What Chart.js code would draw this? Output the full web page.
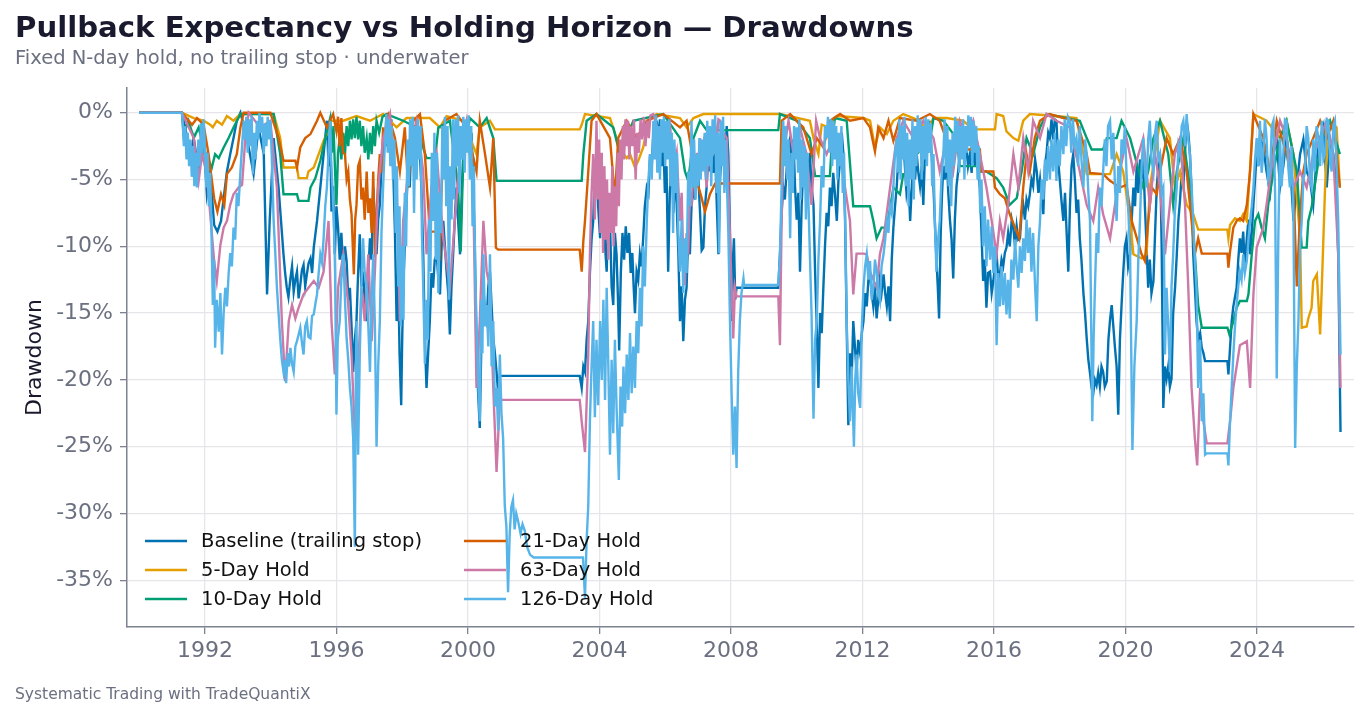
<!DOCTYPE html>
<html>
<head>
<meta charset="utf-8">
<title>Pullback Expectancy vs Holding Horizon - Drawdowns</title>
<script src="https://cdn.jsdelivr.net/npm/chart.js@4.4.1/dist/chart.umd.min.js"></script>
<style>
  html, body { margin: 0; padding: 0; background: #ffffff; }
  #wrap { width: 1368px; height: 717px; }
</style>
</head>
<body>
<div id="wrap"><canvas id="chart" width="1368" height="717"></canvas></div>
<script>
// drawdown series, [year, drawdown %]
const baseline = [
  [1990.0, 0], [1991.3, 0], [1991.40, -1.1], [1991.55, -3.1], [1991.66, -1.9], [1991.81, -4.4], [1991.96, -1.9],
  [1992.06, -6.1], [1992.16, -4.4], [1992.28, -8.4], [1992.38, -8.9], [1992.49, -8.1], [1992.57, -6.4], [1992.67, -4.4],
  [1992.77, -3.1], [1992.87, -1.9], [1992.97, -0.6], [1993.08, 0], [1993.28, -1.9], [1993.48, -4.6], [1993.63, -1.1],
  [1993.79, -3.1], [1993.89, -13.6], [1993.97, -8.1], [1994.09, -1.9], [1994.24, -5.6], [1994.39, -10.6], [1994.44, -12.0],
  [1994.49, -13.1], [1994.54, -13.8], [1994.60, -12.4], [1994.65, -11.5], [1994.70, -13.4], [1994.75, -12.5], [1994.80, -11.9],
  [1994.85, -13.9], [1994.90, -12.9], [1994.95, -11.8], [1995.00, -11.4], [1995.05, -13.0], [1995.10, -12.1], [1995.15, -11.3],
  [1995.21, -10.9], [1995.26, -12.0], [1995.31, -10.1], [1995.41, -8.1], [1995.51, -5.6], [1995.61, -3.1], [1995.71, -0.6],
  [1995.76, -4.0], [1995.81, -2.0], [1995.85, -7.4], [1995.90, -5.5], [1995.95, -10.6], [1996.00, -7.0], [1996.05, -8.6],
  [1996.10, -11.0], [1996.15, -9.0], [1996.21, -11.9], [1996.26, -10.0], [1996.31, -11.1], [1996.36, -14.0], [1996.41, -13.1],
  [1996.46, -16.0], [1996.51, -19.4], [1996.56, -17.0], [1996.61, -15.6], [1996.66, -12.0], [1996.71, -9.1], [1996.76, -13.0],
  [1996.81, -11.9], [1996.86, -14.0], [1996.92, -15.6], [1996.97, -12.0], [1997.02, -9.4], [1997.07, -11.0], [1997.12, -5.6],
  [1997.17, -8.0], [1997.22, -10.6], [1997.27, -8.0], [1997.32, -6.9], [1997.37, -4.0], [1997.42, -3.1], [1997.47, -1.5],
  [1997.52, -2.5], [1997.57, -0.6], [1997.62, -2.0], [1997.67, -0.5], [1997.73, -4.4], [1997.78, -9.0], [1997.83, -15.6],
  [1997.88, -12.0], [1997.92, -18.0], [1997.97, -21.9], [1998.00, -17.0], [1998.03, -13.1], [1998.08, -10.0], [1998.13, -6.9],
  [1998.18, -4.0], [1998.23, -5.6], [1998.28, -2.0], [1998.33, -4.0], [1998.39, -1.9], [1998.44, -0.5], [1998.49, -2.0],
  [1998.54, -3.1], [1998.59, -6.0], [1998.64, -10.6], [1998.69, -17.0], [1998.74, -20.6], [1998.79, -18.0], [1998.84, -15.6],
  [1998.89, -12.0], [1998.94, -13.1], [1998.99, -11.0], [1999.05, -10.6], [1999.10, -12.5], [1999.15, -13.6], [1999.20, -10.0],
  [1999.25, -8.1], [1999.30, -10.0], [1999.35, -11.9], [1999.40, -13.5], [1999.45, -16.6], [1999.50, -13.0], [1999.55, -10.6],
  [1999.60, -8.0], [1999.65, -5.6], [1999.70, -8.0], [1999.76, -10.6], [1999.81, -6.0], [1999.86, -3.1], [1999.91, -1.0],
  [1999.96, -2.5], [2000.01, -0.6], [2000.06, -3.0], [2000.11, -1.5], [2000.16, -5.6], [2000.21, -10.0], [2000.26, -18.1],
  [2000.31, -21.0], [2000.36, -23.6], [2000.41, -17.0], [2000.47, -13.1], [2000.52, -15.0], [2000.57, -15.6], [2000.62, -13.0],
  [2000.67, -11.9], [2000.72, -14.5], [2000.77, -16.9], [2000.82, -18.0], [2000.87, -19.4], [2000.92, -21.0], [2000.97, -19.7],
  [2003.40, -19.7], [2003.46, -20.6], [2003.51, -19.0], [2003.56, -19.4], [2003.61, -17.0], [2003.66, -15.6], [2003.71, -12.0],
  [2003.76, -9.5], [2003.81, -8.1], [2003.86, -4.0], [2003.91, -3.1], [2003.96, -7.0], [2004.02, -9.4], [2004.07, -5.5],
  [2004.12, -5.6], [2004.17, -10.0], [2004.22, -11.9], [2004.27, -7.0], [2004.32, -8.1], [2004.37, -13.0], [2004.42, -14.4],
  [2004.47, -9.0], [2004.52, -10.6], [2004.57, -14.5], [2004.60, -17.8], [2004.65, -12.0], [2004.70, -9.0], [2004.75, -11.0],
  [2004.80, -8.5], [2004.85, -10.5], [2004.90, -9.0], [2004.95, -12.0], [2005.00, -10.5], [2005.04, -13.0], [2005.08, -15.0],
  [2005.13, -11.9], [2005.18, -12.5], [2005.23, -10.6], [2005.28, -11.5], [2005.33, -9.4], [2005.38, -7.0], [2005.44, -5.6],
  [2005.49, -6.0], [2005.54, -3.1], [2005.59, -4.0], [2005.64, -1.5], [2005.69, -3.0], [2005.74, -0.6], [2005.79, -2.0],
  [2005.84, -0.5], [2005.89, -4.0], [2005.94, -1.9], [2005.99, -6.0], [2006.04, -4.0], [2006.09, -11.9], [2006.14, -6.0],
  [2006.20, -3.1], [2006.25, -7.5], [2006.30, -4.5], [2006.35, -6.9], [2006.40, -10.5], [2006.45, -15.6], [2006.50, -13.0],
  [2006.55, -17.1], [2006.60, -14.0], [2006.65, -13.1], [2006.70, -9.0], [2006.75, -10.6], [2006.80, -7.0], [2006.86, -5.6],
  [2006.91, -6.5], [2006.96, -3.1], [2007.01, -5.0], [2007.06, -7.5], [2007.11, -10.3], [2007.16, -10.1], [2007.21, -7.0],
  [2007.26, -5.6], [2007.31, -3.0], [2007.36, -4.4], [2007.41, -2.0], [2007.46, -4.5], [2007.52, -3.1], [2007.57, -7.0],
  [2007.62, -10.6], [2007.67, -5.0], [2007.72, -2.0], [2007.77, -1.9], [2007.82, -4.0], [2007.87, -1.0], [2007.92, -3.1],
  [2007.97, -9.0], [2008.02, -15.6], [2008.06, -11.0], [2008.09, -9.4], [2008.13, -14.0], [2008.17, -13.1], [2009.44, -13.1],
  [2009.49, -10.6], [2009.54, -7.5], [2009.59, -5.6], [2009.64, -6.5], [2009.69, -4.4], [2009.74, -2.5], [2009.80, -1.9],
  [2009.85, -4.0], [2009.90, -2.0], [2009.95, -5.6], [2010.00, -8.0], [2010.05, -6.0], [2010.10, -11.9], [2010.15, -7.0],
  [2010.20, -4.0], [2010.25, -5.5], [2010.30, -3.1], [2010.35, -5.0], [2010.40, -3.0], [2010.45, -5.5], [2010.51, -6.9],
  [2010.56, -12.0], [2010.61, -16.0], [2010.66, -20.6], [2010.71, -15.0], [2010.76, -16.5], [2010.81, -13.1], [2010.86, -10.0],
  [2010.91, -7.5], [2010.96, -8.5], [2011.01, -5.6], [2011.06, -7.0], [2011.11, -4.5], [2011.16, -6.0], [2011.22, -8.1],
  [2011.27, -5.0], [2011.32, -3.5], [2011.37, -1.5], [2011.42, -3.1], [2011.47, -8.0], [2011.52, -16.0], [2011.57, -23.4],
  [2011.62, -18.0], [2011.67, -20.0], [2011.72, -15.6], [2011.77, -17.5], [2011.82, -19.4], [2011.87, -17.0], [2011.93, -18.0],
  [2011.98, -16.5], [2012.03, -15.6], [2012.08, -13.5], [2012.13, -14.5], [2012.18, -12.5], [2012.23, -12.1], [2012.28, -13.5],
  [2012.33, -14.5], [2012.38, -13.0], [2012.43, -15.4], [2012.48, -14.0], [2012.53, -12.5], [2012.58, -13.5], [2012.64, -12.1],
  [2012.69, -13.5], [2012.74, -14.5], [2012.79, -13.0], [2012.84, -15.6], [2012.89, -11.0], [2012.94, -8.6], [2012.99, -7.0],
  [2013.04, -5.6], [2013.09, -3.5], [2013.14, -4.5], [2013.19, -2.0], [2013.24, -1.9], [2013.29, -4.0], [2013.34, -6.0],
  [2013.40, -5.0], [2013.45, -8.1], [2013.50, -5.5], [2013.55, -3.5], [2013.60, -5.0], [2013.65, -3.1], [2013.70, -4.5],
  [2013.75, -5.5], [2013.80, -4.0], [2013.85, -6.9], [2013.90, -3.0], [2013.95, -1.5], [2014.00, -3.0], [2014.05, -0.6],
  [2014.10, -3.0], [2014.15, -5.0], [2014.20, -8.1], [2014.25, -11.0], [2014.29, -13.0], [2014.33, -15.4], [2014.38, -9.0],
  [2014.42, -6.0], [2014.46, -4.0], [2014.51, -5.0], [2014.56, -3.1], [2014.61, -6.0], [2014.66, -8.0], [2014.71, -9.5],
  [2014.76, -12.4], [2014.81, -8.0], [2014.86, -5.5], [2014.91, -4.4], [2014.96, -3.0], [2015.01, -2.5], [2015.06, -1.9],
  [2015.11, -3.5], [2015.16, -2.5], [2015.21, -4.0], [2015.27, -3.1], [2015.32, -4.5], [2015.37, -2.0], [2015.42, -4.0],
  [2015.47, -3.0], [2015.52, -4.5], [2015.57, -5.6], [2015.62, -9.0], [2015.67, -12.6], [2015.72, -11.0], [2015.77, -14.6],
  [2015.82, -12.0], [2015.88, -11.9], [2015.93, -13.5], [2015.98, -12.6], [2016.03, -11.5], [2016.08, -10.6], [2016.13, -12.5],
  [2016.18, -12.1], [2016.23, -11.0], [2016.28, -11.5], [2016.33, -10.5], [2016.38, -10.1], [2016.43, -9.0], [2016.48, -10.0],
  [2016.54, -8.0], [2016.59, -8.6], [2016.64, -10.0], [2016.69, -8.5], [2016.74, -9.5], [2016.79, -9.4], [2016.84, -7.5],
  [2016.89, -6.9], [2016.94, -8.0], [2016.99, -6.5], [2017.04, -7.0], [2017.09, -6.1], [2017.14, -5.0], [2017.19, -5.5],
  [2017.25, -3.5], [2017.30, -4.4], [2017.35, -6.0], [2017.40, -5.0], [2017.45, -6.5], [2017.50, -7.6], [2017.55, -4.0],
  [2017.60, -3.0], [2017.65, -1.5], [2017.70, -1.9], [2017.75, -0.5], [2017.80, -2.0], [2017.85, -0.5], [2017.90, -0.6],
  [2017.95, -3.5], [2018.00, -5.0], [2018.05, -6.5], [2018.11, -8.1], [2018.16, -6.0], [2018.21, -9.0], [2018.26, -11.9],
  [2018.31, -7.0], [2018.36, -4.0], [2018.41, -3.1], [2018.46, -5.0], [2018.51, -7.5], [2018.56, -6.5], [2018.61, -9.4],
  [2018.66, -11.0], [2018.72, -13.5], [2018.77, -15.0], [2018.82, -16.9], [2018.87, -18.5], [2018.92, -19.5], [2018.97, -20.6],
  [2019.02, -21.0], [2019.07, -20.0], [2019.12, -20.4], [2019.17, -19.5], [2019.22, -20.5], [2019.27, -19.0], [2019.32, -19.4],
  [2019.37, -20.5], [2019.43, -20.1], [2019.48, -17.0], [2019.53, -15.5], [2019.58, -14.4], [2019.63, -16.0], [2019.68, -17.6],
  [2019.73, -19.0], [2019.78, -22.6], [2019.83, -17.0], [2019.88, -14.4], [2019.93, -12.0], [2019.98, -10.0], [2020.03, -9.4],
  [2020.08, -11.5], [2020.14, -10.6], [2020.19, -8.0], [2020.24, -5.6], [2020.29, -7.0], [2020.34, -4.0], [2020.39, -6.0],
  [2020.44, -3.5], [2020.49, -5.0], [2020.54, -3.1], [2020.59, -7.0], [2020.64, -10.0], [2020.69, -13.1], [2020.74, -11.0],
  [2020.79, -13.5], [2020.85, -12.6], [2020.90, -9.0], [2020.95, -5.6], [2021.00, -4.0], [2021.05, -3.1], [2021.10, -10.0],
  [2021.15, -22.1], [2021.20, -19.0], [2021.25, -19.9], [2021.30, -19.0], [2021.35, -20.5], [2021.40, -19.9], [2021.45, -15.0],
  [2021.51, -13.0], [2021.56, -10.6], [2021.61, -8.0], [2021.66, -6.5], [2021.71, -4.5], [2021.76, -5.6], [2021.81, -3.0],
  [2021.86, -0.6], [2021.91, -1.5], [2021.96, -3.1], [2022.01, -6.0], [2022.06, -10.6], [2022.11, -13.0], [2022.16, -15.6],
  [2022.21, -17.0], [2022.27, -16.5], [2022.32, -17.6], [2022.37, -18.0], [2022.42, -18.6], [2023.10, -18.6], [2023.13, -19.6],
  [2023.23, -15.6], [2023.28, -14.5], [2023.38, -13.1], [2023.43, -11.0], [2023.48, -9.4], [2023.53, -10.5], [2023.58, -8.9],
  [2023.63, -11.5], [2023.69, -9.4], [2023.74, -8.0], [2023.79, -10.6], [2023.84, -9.0], [2023.89, -6.9], [2023.94, -5.0],
  [2023.99, -3.1], [2024.04, -4.0], [2024.09, -1.9], [2024.19, -2.5], [2024.29, -4.4], [2024.40, -6.0], [2024.50, -3.1],
  [2024.60, -2.0], [2024.70, -5.6], [2024.80, -4.0], [2024.90, -1.9], [2025.00, -3.5], [2025.11, -8.1], [2025.21, -5.5],
  [2025.31, -3.1], [2025.41, -2.0], [2025.51, -4.4], [2025.61, -5.0], [2025.71, -6.9], [2025.81, -3.5], [2025.92, -1.9],
  [2026.02, -1.0], [2026.12, -5.6], [2026.22, -2.0], [2026.32, -3.1], [2026.40, -5.0], [2026.47, -10.6], [2026.54, -23.9]
];

const hold5 = [
  [1990.0, 0], [1991.3, 0], [1991.66, -0.4], [1991.96, -0.6], [1992.16, -0.9], [1992.24, -1.1], [1992.36, -0.6],
  [1992.52, -0.9], [1992.67, -0.25], [1992.87, -0.6], [1993.08, -0.1], [1994.09, -0.1], [1994.29, -1.9], [1994.39, -4.1],
  [1994.80, -4.1], [1994.85, -4.9], [1995.10, -4.9], [1995.15, -4.4], [1995.31, -4.1], [1995.46, -3.1], [1995.61, -2.1],
  [1995.71, -1.6], [1995.81, -0.6], [1996.21, -0.6], [1996.61, -0.25], [1997.02, -0.6], [1997.42, -0.1], [1997.83, -1.1],
  [1998.13, -0.4], [1998.84, -0.4], [1999.15, -1.1], [1999.35, -0.25], [1999.86, -0.6], [2000.26, -3.1], [2000.36, -1.1],
  [2000.67, -0.6], [2000.82, -1.25], [2003.40, -1.25], [2003.46, -0.9], [2003.56, -0.1], [2004.32, -0.4], [2004.52, -1.9],
  [2004.73, -3.1], [2004.83, -3.4], [2004.93, -3.1], [2005.08, -4.1], [2005.18, -3.6], [2005.33, -2.6], [2005.49, -0.6],
  [2005.74, -0.1], [2006.45, -0.4], [2006.65, -1.1], [2006.86, -0.4], [2007.16, -0.1], [2009.44, -0.1], [2009.49, -0.1],
  [2010.40, -0.6], [2010.51, -1.9], [2010.66, -3.1], [2010.76, -0.9], [2010.96, -1.1], [2011.22, -0.25], [2012.03, -0.4],
  [2012.23, -0.6], [2012.38, -2.6], [2012.53, -1.1], [2012.74, -1.6], [2012.94, -0.6], [2013.24, -0.1], [2013.75, -0.6],
  [2013.95, -1.4], [2014.16, -0.4], [2014.56, -0.4], [2015.06, -0.6], [2015.37, -1.25], [2016.03, -1.25], [2016.08, -0.1],
  [2016.28, -0.25], [2016.38, -1.4], [2016.59, -1.9], [2016.74, -2.1], [2016.89, -0.6], [2017.09, -0.1], [2017.90, -0.25],
  [2018.51, -0.4], [2018.72, -3.1], [2018.82, -4.6], [2019.53, -4.6], [2019.73, -3.1], [2019.93, -4.4], [2020.14, -8.1],
  [2020.24, -10.6], [2020.49, -10.9], [2020.64, -10.6], [2020.74, -5.6], [2020.90, -3.1], [2021.05, -0.6], [2021.35, -1.9],
  [2021.50, -5.6], [2021.66, -4.4], [2021.86, -6.9], [2022.06, -7.6], [2022.21, -8.75], [2023.10, -8.75], [2023.13, -9.4],
  [2023.18, -8.4], [2023.33, -7.9], [2023.48, -8.1], [2023.58, -7.6], [2023.69, -8.1], [2023.79, -4.1], [2023.89, -0.1],
  [2024.29, -0.6], [2024.70, -1.9], [2024.90, -0.6], [2025.11, -3.1], [2025.31, -9.4], [2025.36, -16.1], [2025.51, -16.0],
  [2025.56, -15.4], [2025.66, -14.6], [2025.71, -12.6], [2025.82, -12.1], [2025.92, -16.6], [2025.97, -13.1], [2026.07, -5.6],
  [2026.17, -0.6], [2026.42, -1.1], [2026.52, -5.6]
];

const hold10 = [
  [1990.0, 0], [1991.3, 0], [1991.35, -1.6], [1991.50, -0.6], [1991.66, -1.9], [1991.81, -1.1], [1991.96, -2.6],
  [1992.11, -3.6], [1992.21, -4.1], [1992.31, -3.1], [1992.42, -3.4], [1992.57, -2.6], [1992.72, -1.9], [1992.87, -1.1],
  [1993.08, -0.1], [1994.09, -0.1], [1994.29, -3.1], [1994.39, -6.1], [1994.80, -6.1], [1994.85, -6.6], [1995.15, -6.6],
  [1995.21, -5.6], [1995.36, -4.9], [1995.51, -3.6], [1995.66, -1.9], [1995.81, -0.4], [1995.86, -3.0], [1995.91, -1.0],
  [1995.96, -4.5], [1996.00, -6.9], [1996.05, -3.0], [1996.10, -1.9], [1996.15, -3.5], [1996.21, -1.5], [1996.26, -3.1],
  [1996.31, -1.0], [1996.36, -2.5], [1996.41, -0.6], [1996.46, -2.0], [1996.51, -0.5], [1996.56, -1.9], [1996.61, -0.3],
  [1996.66, -2.0], [1996.71, -0.6], [1996.76, -2.5], [1996.81, -1.0], [1996.86, -3.0], [1996.92, -1.9], [1996.97, -3.5],
  [1997.02, -1.5], [1997.07, -3.1], [1997.12, -1.0], [1997.17, -2.5], [1997.22, -0.6], [1997.30, -1.5], [1997.40, -0.3],
  [1997.52, -0.1], [1998.03, -0.6], [1998.44, -1.1], [1998.74, -3.4], [1999.00, -3.4], [1999.10, -1.1], [1999.45, -0.6],
  [1999.70, -5.6], [1999.78, -10.4], [1999.86, -3.1], [2000.06, -0.4], [2000.36, -1.1], [2000.57, -0.4], [2000.77, -1.9],
  [2000.87, -5.1], [2003.40, -5.1], [2003.46, -5.1], [2003.51, -3.1], [2003.61, -0.6], [2003.91, -0.1], [2004.42, -1.1],
  [2004.62, -3.1], [2004.83, -1.9], [2005.03, -0.6], [2005.94, -0.1], [2006.45, -1.9], [2006.60, -4.4], [2006.70, -5.1],
  [2006.86, -1.9], [2007.06, -0.6], [2007.26, -1.3], [2009.44, -1.3], [2009.49, -0.1], [2010.00, -0.6], [2010.40, -1.9],
  [2010.56, -4.75], [2011.01, -4.75], [2011.06, -2.6], [2011.16, -0.4], [2011.52, -0.6], [2011.72, -7.0], [2012.23, -7.0],
  [2012.33, -8.1], [2012.43, -9.4], [2012.58, -8.6], [2012.74, -8.6], [2012.94, -5.6], [2013.14, -6.1], [2013.24, -4.6],
  [2013.45, -4.6], [2013.65, -3.1], [2014.05, -2.1], [2014.16, -0.4], [2014.46, -0.6], [2014.86, -1.9], [2014.96, -4.0],
  [2015.47, -4.0], [2015.57, -4.4], [2015.77, -4.4], [2016.08, -4.9], [2016.28, -5.6], [2016.48, -6.9], [2016.69, -6.4],
  [2016.84, -4.4], [2016.99, -1.9], [2017.19, -3.1], [2017.40, -1.1], [2017.60, -0.1], [2018.61, -0.6], [2018.82, -1.9],
  [2018.97, -2.75], [2019.32, -2.75], [2019.43, -1.9], [2019.73, -1.9], [2019.88, -0.6], [2020.14, -1.9], [2020.54, -5.6],
  [2020.69, -4.4], [2020.85, -1.9], [2021.05, -0.6], [2021.30, -3.1], [2021.45, -6.9], [2021.56, -4.4], [2021.76, -1.9],
  [2021.96, -5.6], [2022.11, -10.6], [2022.21, -14.4], [2022.32, -16.1], [2023.10, -16.1], [2023.16, -16.6], [2023.28, -15.6],
  [2023.38, -14.6], [2023.48, -14.1], [2023.69, -14.1], [2023.74, -13.6], [2023.84, -10.6], [2023.94, -8.1], [2024.04, -7.6],
  [2024.14, -8.6], [2024.24, -9.4], [2024.34, -6.9], [2024.50, -4.4], [2024.70, -1.9], [2024.90, -0.6], [2025.21, -4.4],
  [2025.36, -10.1], [2025.51, -10.1], [2025.56, -8.1], [2025.66, -7.1], [2025.82, -4.4], [2025.97, -1.9], [2026.22, -0.6],
  [2026.52, -3.1]
];

const hold21 = [
  [1990.0, 0], [1991.3, 0], [1991.61, -0.9], [1991.76, -0.4], [1991.96, -0.9], [1992.11, -3.1], [1992.28, -6.4],
  [1992.38, -7.4], [1992.49, -6.1], [1992.59, -6.9], [1992.67, -4.6], [1992.82, -4.1], [1992.97, -3.1], [1993.08, -1.1],
  [1993.18, 0], [1993.99, 0], [1994.24, -1.9], [1994.39, -3.6], [1994.75, -3.6], [1994.80, -4.1], [1994.90, -2.6],
  [1995.05, -1.9], [1995.21, -1.6], [1995.41, -0.6], [1995.51, 0], [1995.71, -1.1], [1995.90, -0.1], [1996.00, -1.4],
  [1996.05, -0.3], [1996.10, -2.5], [1996.15, -0.4], [1996.20, -3.0], [1996.26, -3.1], [1996.31, -5.0], [1996.36, -4.4],
  [1996.41, -6.5], [1996.46, -7.6], [1996.53, -12.1], [1996.57, -8.0], [1996.61, -6.9], [1996.66, -4.0], [1996.71, -3.6],
  [1996.76, -6.5], [1996.81, -5.6], [1996.86, -8.0], [1996.92, -4.4], [1996.97, -7.5], [1997.02, -6.4], [1997.07, -9.0],
  [1997.12, -4.4], [1997.17, -10.8], [1997.22, -7.6], [1997.27, -5.0], [1997.32, -3.1], [1997.37, -4.5], [1997.42, -1.1],
  [1997.47, -2.5], [1997.52, -0.3], [1997.57, -0.1], [1997.78, -1.9], [1997.93, -4.4], [1998.08, -1.1], [1998.18, -5.6],
  [1998.34, -0.6], [1998.54, -0.1], [1998.69, -3.1], [1998.84, -8.9], [1999.05, -8.9], [1999.13, -11.1], [1999.20, -5.6],
  [1999.30, -0.6], [1999.65, -0.1], [1999.96, -1.1], [2000.26, -4.4], [2000.36, -0.6], [2000.52, -3.1], [2000.67, -5.6],
  [2000.77, -1.9], [2000.85, -10.1], [2000.92, -10.25], [2003.40, -10.25], [2003.46, -11.9], [2003.51, -9.6], [2003.56, -8.1],
  [2003.66, -4.4], [2003.76, -0.6], [2003.91, -0.1], [2004.32, -1.9], [2004.47, -6.4], [2004.57, -1.9], [2004.83, -0.6],
  [2005.13, -1.9], [2005.44, -0.6], [2005.94, -0.1], [2006.45, -1.1], [2006.65, -0.6], [2006.96, -5.1], [2007.11, -6.4],
  [2007.21, -7.4], [2007.36, -6.1], [2007.52, -5.3], [2009.49, -5.3], [2009.54, -0.6], [2009.80, -0.1], [2010.20, -1.1],
  [2010.45, -3.1], [2010.61, -1.9], [2010.81, -2.6], [2011.01, -0.6], [2011.32, -0.1], [2011.62, -0.6], [2012.03, -0.4],
  [2012.23, -1.1], [2012.38, -2.9], [2012.48, -1.1], [2012.64, -1.9], [2012.79, -0.6], [2012.94, -2.1], [2013.14, -0.4],
  [2013.65, -0.6], [2014.05, -0.1], [2014.35, -0.6], [2014.66, -2.75], [2015.57, -2.75], [2015.62, -4.4], [2015.98, -4.4],
  [2016.03, -5.6], [2016.18, -6.1], [2016.33, -6.4], [2016.48, -7.6], [2016.64, -8.6], [2016.77, -9.4], [2016.89, -5.6],
  [2016.99, -3.1], [2017.09, -4.4], [2017.24, -1.9], [2017.40, -0.6], [2017.70, -0.1], [2018.11, -0.4], [2018.51, -0.6],
  [2018.82, -3.1], [2018.92, -4.5], [2019.32, -4.6], [2019.53, -5.1], [2019.83, -5.6], [2020.03, -5.4], [2020.19, -8.1],
  [2020.49, -10.6], [2020.59, -11.1], [2020.69, -8.1], [2020.80, -5.6], [2020.95, -6.1], [2021.05, -4.4], [2021.25, -1.9],
  [2021.45, -3.1], [2021.66, -1.9], [2021.86, -4.4], [2022.01, -8.1], [2022.11, -10.6], [2022.21, -9.4], [2022.32, -10.55],
  [2023.10, -10.55], [2023.13, -11.6], [2023.18, -10.4], [2023.28, -8.6], [2023.38, -8.1], [2023.48, -7.9], [2023.58, -8.1],
  [2023.69, -6.9], [2023.79, -4.4], [2023.89, -0.1], [2024.19, -1.9], [2024.40, -4.4], [2024.60, -0.6], [2024.90, -3.1],
  [2025.11, -5.6], [2025.21, -13.0], [2025.31, -7.6], [2025.41, -4.4], [2025.51, -3.1], [2025.71, -1.9], [2025.92, -0.6],
  [2026.12, -1.9], [2026.32, -0.6], [2026.52, -5.6]
];

const hold63 = [
  [1990.0, 0], [1991.3, 0], [1991.66, -1.9], [1991.81, -5.1], [1991.91, -3.1], [1992.06, -4.6], [1992.28, -11.1],
  [1992.36, -12.6], [1992.47, -9.9], [1992.57, -8.6], [1992.67, -8.1], [1992.77, -6.9], [1992.87, -6.1], [1993.02, -5.6],
  [1993.13, -5.4], [1993.23, -1.9], [1993.33, 0], [1993.68, -1.1], [1993.99, -0.6], [1994.19, -5.6], [1994.34, -15.6],
  [1994.44, -20.1], [1994.55, -15.6], [1994.65, -14.4], [1994.75, -15.4], [1994.85, -14.6], [1995.00, -13.6], [1995.15, -13.1],
  [1995.31, -12.6], [1995.46, -13.1], [1995.61, -11.9], [1995.76, -8.1], [1995.85, -15.6], [1995.95, -19.6], [1996.05, -13.1],
  [1996.21, -10.6], [1996.36, -14.4], [1996.46, -18.1], [1996.56, -24.1], [1996.66, -19.4], [1996.76, -13.1], [1996.86, -15.6],
  [1996.97, -10.6], [1997.07, -17.1], [1997.17, -11.9], [1997.27, -5.6], [1997.42, -1.9], [1997.63, -0.1], [1997.83, -5.6],
  [1997.93, -15.6], [1998.03, -8.1], [1998.23, -3.1], [1998.44, -0.6], [1998.64, -4.4], [1998.74, -10.6], [1998.89, -5.6],
  [1999.05, -3.1], [1999.25, -9.4], [1999.45, -13.1], [1999.60, -8.1], [1999.76, -3.1], [1999.96, -0.6], [2000.16, -5.6],
  [2000.26, -20.6], [2000.36, -15.6], [2000.47, -8.1], [2000.57, -11.9], [2000.67, -13.1], [2000.77, -20.6], [2000.87, -26.9],
  [2000.97, -21.5], [2003.40, -21.5], [2003.46, -23.1], [2003.56, -25.4], [2003.66, -18.1], [2003.71, -10.6], [2003.76, -6.0],
  [2003.81, -3.1], [2003.86, -8.0], [2003.91, -0.6], [2003.95, -6.5], [2003.99, -2.0], [2004.03, -9.0], [2004.07, -3.0],
  [2004.11, -10.5], [2004.15, -4.0], [2004.19, -9.5], [2004.23, -5.0], [2004.27, -11.0], [2004.31, -6.0], [2004.35, -9.0],
  [2004.39, -4.0], [2004.43, -10.0], [2004.47, -5.5], [2004.51, -8.5], [2004.55, -3.0], [2004.59, -7.0], [2004.63, -2.0],
  [2004.67, -5.0], [2004.71, -1.0], [2004.75, -3.5], [2004.79, -0.5], [2004.83, -2.5], [2004.87, -0.6], [2004.91, -3.5],
  [2004.95, -1.0], [2005.00, -2.5], [2005.05, -0.5], [2005.10, -5.0], [2005.15, -1.5], [2005.20, -3.0], [2005.25, -0.5],
  [2005.30, -2.0], [2005.35, -0.3], [2005.40, -2.5], [2005.45, -0.6], [2005.50, -1.9], [2005.55, -0.2], [2005.64, -0.1],
  [2005.80, -1.5], [2005.94, -1.1], [2006.05, -2.5], [2006.15, -1.0], [2006.25, -4.4], [2006.35, -3.0], [2006.45, -8.1],
  [2006.50, -6.0], [2006.55, -11.0], [2006.60, -12.9], [2006.65, -9.0], [2006.70, -10.6], [2006.75, -6.0], [2006.80, -7.0],
  [2006.86, -4.4], [2006.91, -5.5], [2006.96, -3.0], [2007.01, -4.5], [2007.06, -1.9], [2007.11, -3.5], [2007.16, -2.5],
  [2007.21, -4.0], [2007.26, -5.6], [2007.31, -3.0], [2007.36, -4.0], [2007.41, -2.0], [2007.46, -2.6], [2007.52, -1.0],
  [2007.57, -2.0], [2007.62, -0.5], [2007.67, -0.6], [2007.77, -1.5], [2007.87, -1.9], [2008.02, -13.1], [2008.07, -16.9],
  [2008.12, -13.1], [2008.17, -13.75], [2009.44, -13.75], [2009.49, -17.4], [2009.54, -8.1], [2009.59, -3.1], [2009.75, -0.6],
  [2009.90, -3.1], [2010.10, -1.1], [2010.30, -3.1], [2010.45, -6.9], [2010.59, -0.6], [2010.71, -1.9], [2010.91, -3.1],
  [2011.11, -1.9], [2011.32, -3.1], [2011.47, -5.6], [2011.62, -8.1], [2011.72, -13.6], [2011.82, -10.55], [2012.03, -10.55],
  [2012.13, -10.6], [2012.23, -11.9], [2012.43, -13.1], [2012.53, -10.6], [2012.64, -9.4], [2012.84, -5.6], [2013.04, -1.9],
  [2013.24, -0.6], [2013.55, -1.9], [2013.85, -0.6], [2014.16, -1.9], [2014.35, -4.4], [2014.56, -1.9], [2014.76, -4.4],
  [2014.96, -0.6], [2015.17, -1.9], [2015.37, -0.6], [2015.57, -3.1], [2015.77, -5.6], [2015.93, -8.1], [2016.08, -10.6],
  [2016.18, -8.1], [2016.28, -9.4], [2016.43, -6.9], [2016.59, -3.1], [2016.74, -5.6], [2016.89, -1.9], [2017.04, -4.4],
  [2017.19, -0.6], [2017.40, -1.9], [2017.60, -0.1], [2017.90, -0.6], [2018.31, -1.1], [2018.61, -4.4], [2018.82, -6.9],
  [2019.02, -8.1], [2019.17, -5.6], [2019.32, -7.6], [2019.53, -9.4], [2019.68, -6.9], [2019.83, -4.4], [2020.03, -1.9],
  [2020.24, -4.4], [2020.54, -1.9], [2020.74, -6.9], [2020.90, -3.1], [2021.05, -5.6], [2021.20, -10.6], [2021.35, -6.9],
  [2021.50, -3.1], [2021.66, -1.9], [2021.81, -6.9], [2021.91, -13.1], [2022.01, -20.6], [2022.11, -24.4], [2022.18, -26.4],
  [2022.27, -20.6], [2022.37, -23.1], [2022.47, -24.75], [2023.10, -24.75], [2023.18, -23.1], [2023.28, -20.6], [2023.48, -17.4],
  [2023.69, -17.1], [2023.79, -20.6], [2023.89, -13.6], [2023.99, -10.1], [2024.19, -8.6], [2024.29, -6.9], [2024.50, -3.1],
  [2024.70, -0.6], [2024.90, -1.9], [2025.11, -5.6], [2025.31, -4.4], [2025.51, -5.6], [2025.71, -3.1], [2025.92, -1.9],
  [2026.12, -0.6], [2026.32, -3.1], [2026.47, -10.6], [2026.54, -20.6]
];

const hold126 = [
  [1990.0, 0], [1991.3, 0], [1991.32, -0.5], [1991.36, -2.5], [1991.40, -1.0], [1991.44, -3.5], [1991.48, -1.5],
  [1991.52, -4.0], [1991.56, -2.0], [1991.60, -4.8], [1991.64, -2.5], [1991.68, -5.5], [1991.72, -3.0], [1991.76, -5.6],
  [1991.80, -2.0], [1991.84, -4.0], [1991.88, -0.8], [1991.92, -3.0], [1991.96, -0.5], [1992.00, -2.5], [1992.04, -5.6],
  [1992.08, -3.0], [1992.12, -7.0], [1992.16, -4.5], [1992.20, -9.0], [1992.24, -14.4], [1992.28, -11.0], [1992.31, -17.6],
  [1992.36, -14.0], [1992.42, -16.4], [1992.47, -13.5], [1992.52, -18.1], [1992.57, -15.0], [1992.62, -13.1], [1992.67, -14.5],
  [1992.72, -12.1], [1992.77, -10.5], [1992.82, -11.5], [1992.87, -8.6], [1992.92, -9.5], [1992.97, -6.0], [1993.02, -7.0],
  [1993.08, -4.4], [1993.13, -2.5], [1993.18, -0.6], [1993.22, -2.0], [1993.26, -0.3], [1993.30, -3.0], [1993.34, -0.5],
  [1993.38, -2.5], [1993.42, -0.2], [1993.46, -4.6], [1993.50, -1.5], [1993.54, -3.5], [1993.58, -0.6], [1993.62, -2.0],
  [1993.66, 0], [1993.70, -1.5], [1993.74, -0.3], [1993.79, -3.1], [1993.83, -0.8], [1993.87, -2.5], [1993.91, -0.3],
  [1993.95, -2.0], [1993.99, -0.6], [1994.03, -3.0], [1994.09, -8.1], [1994.14, -10.5], [1994.19, -13.1], [1994.24, -15.0],
  [1994.29, -16.9], [1994.34, -18.5], [1994.39, -19.4], [1994.44, -18.5], [1994.47, -20.25], [1994.52, -18.0], [1994.56, -19.0],
  [1994.60, -17.6], [1994.65, -18.8], [1994.70, -19.4], [1994.75, -17.5], [1994.80, -17.1], [1994.85, -16.6], [1994.90, -16.1],
  [1994.95, -17.2], [1995.00, -18.1], [1995.05, -16.0], [1995.10, -15.6], [1995.15, -16.8], [1995.21, -16.9], [1995.26, -15.2],
  [1995.31, -15.1], [1995.36, -14.3], [1995.41, -13.6], [1995.46, -12.0], [1995.51, -10.6], [1995.56, -11.2], [1995.61, -9.4],
  [1995.66, -7.0], [1995.71, -5.6], [1995.76, -3.0], [1995.81, -0.6], [1995.84, -3.5], [1995.88, -5.6], [1995.92, -8.0],
  [1995.96, -12.0], [1996.00, -22.6], [1996.04, -17.0], [1996.10, -15.6], [1996.15, -12.5], [1996.21, -10.6], [1996.26, -14.0],
  [1996.31, -16.9], [1996.36, -18.5], [1996.41, -20.6], [1996.46, -22.0], [1996.51, -24.4], [1996.56, -32.5], [1996.59, -20.0],
  [1996.61, -15.6], [1996.66, -25.6], [1996.71, -18.1], [1996.76, -13.0], [1996.81, -9.4], [1996.86, -12.0], [1996.92, -13.1],
  [1996.97, -16.0], [1997.02, -19.4], [1997.07, -14.0], [1997.12, -10.6], [1997.17, -16.0], [1997.22, -25.0], [1997.27, -19.0],
  [1997.32, -15.6], [1997.37, -9.0], [1997.42, -5.6], [1997.47, -2.5], [1997.52, -0.1], [1997.56, -3.0], [1997.60, -0.5],
  [1997.64, -4.0], [1997.68, -1.0], [1997.72, -5.0], [1997.76, -2.0], [1997.80, -9.0], [1997.84, -4.0], [1997.88, -13.0],
  [1997.92, -7.0], [1997.96, -16.0], [1998.00, -10.0], [1998.04, -15.5], [1998.08, -6.0], [1998.12, -10.0], [1998.16, -2.0],
  [1998.20, -5.5], [1998.24, -0.5], [1998.28, -4.0], [1998.32, -0.3], [1998.36, -7.5], [1998.40, -1.0], [1998.44, -5.0],
  [1998.48, -0.5], [1998.52, -3.5], [1998.56, -1.0], [1998.60, -9.0], [1998.64, -13.1], [1998.69, -18.8], [1998.74, -14.0],
  [1998.78, -17.0], [1998.82, -8.0], [1998.86, -11.9], [1998.90, -3.0], [1998.94, -8.1], [1998.98, -1.5], [1999.02, -11.0],
  [1999.06, -3.0], [1999.10, -13.5], [1999.14, -6.0], [1999.18, -9.0], [1999.22, -1.0], [1999.26, -5.0], [1999.30, -0.3],
  [1999.34, -7.0], [1999.38, -1.0], [1999.42, -14.0], [1999.46, -4.0], [1999.50, -8.0], [1999.54, -0.5], [1999.58, -6.5],
  [1999.62, -0.5], [1999.66, -4.0], [1999.70, -0.2], [1999.74, -6.0], [1999.78, -1.0], [1999.82, -3.5], [1999.86, -0.3],
  [1999.90, -4.5], [1999.94, -0.5], [1999.98, -3.0], [2000.02, -0.2], [2000.06, -5.0], [2000.10, -1.0], [2000.14, -8.5],
  [2000.18, -4.0], [2000.22, -12.0], [2000.26, -15.6], [2000.31, -20.0], [2000.36, -23.1], [2000.40, -14.0], [2000.44, -18.0],
  [2000.47, -10.6], [2000.52, -16.0], [2000.57, -14.4], [2000.62, -17.5], [2000.67, -10.6], [2000.72, -19.0], [2000.77, -15.6],
  [2000.82, -22.0], [2000.87, -20.6], [2000.92, -23.8], [2000.97, -18.1], [2001.02, -22.5], [2001.07, -24.4], [2001.12, -29.4],
  [2001.17, -31.0], [2001.22, -35.9], [2001.27, -31.5], [2001.32, -29.5], [2001.37, -29.0], [2001.42, -31.2], [2001.47, -30.0],
  [2001.52, -30.5], [2001.60, -31.5], [2001.66, -30.8], [2001.73, -31.3], [2001.80, -32.5], [2001.89, -33.1], [2002.00, -33.3],
  [2003.50, -33.3], [2003.56, -36.3], [2003.61, -32.0], [2003.66, -29.4], [2003.71, -23.1], [2003.76, -19.0], [2003.81, -15.6],
  [2003.86, -22.8], [2003.91, -17.0], [2003.96, -21.9], [2004.02, -15.6], [2004.07, -20.0], [2004.12, -14.0], [2004.17, -21.5],
  [2004.22, -13.1], [2004.27, -19.0], [2004.32, -25.6], [2004.37, -18.5], [2004.42, -24.0], [2004.47, -17.0], [2004.52, -22.0],
  [2004.59, -27.5], [2004.64, -20.5], [2004.69, -23.5], [2004.73, -19.0], [2004.78, -22.5], [2004.83, -18.1], [2004.88, -21.5],
  [2004.93, -16.5], [2004.98, -21.0], [2005.03, -17.5], [2005.08, -20.6], [2005.13, -15.6], [2005.18, -18.0], [2005.23, -13.1],
  [2005.28, -16.0], [2005.33, -10.0], [2005.38, -13.0], [2005.44, -8.1], [2005.49, -5.0], [2005.54, -3.1], [2005.59, -5.0],
  [2005.64, -0.6], [2005.68, -3.5], [2005.72, -0.2], [2005.76, -4.5], [2005.80, -1.0], [2005.84, -5.0], [2005.88, -0.5],
  [2005.92, -3.0], [2005.96, -0.3], [2006.00, -4.0], [2006.04, -0.6], [2006.08, -3.5], [2006.12, -0.5], [2006.16, -5.5],
  [2006.20, -1.5], [2006.24, -9.0], [2006.28, -2.0], [2006.32, -6.0], [2006.36, -3.0], [2006.40, -9.0], [2006.45, -11.9],
  [2006.50, -8.0], [2006.55, -13.5], [2006.60, -9.4], [2006.65, -12.0], [2006.70, -4.4], [2006.75, -7.0], [2006.80, -0.6],
  [2006.84, -5.6], [2006.88, -2.0], [2006.92, -6.5], [2006.96, -3.1], [2007.00, -5.5], [2007.04, -1.9], [2007.08, -5.0],
  [2007.12, -2.0], [2007.16, -4.4], [2007.20, -1.5], [2007.24, -5.0], [2007.28, -0.6], [2007.32, -4.0], [2007.36, -1.0],
  [2007.40, -5.5], [2007.44, -0.5], [2007.48, -3.1], [2007.52, -0.2], [2007.56, -6.0], [2007.60, -1.5], [2007.64, -10.5],
  [2007.68, -0.6], [2007.72, -4.0], [2007.76, -0.3], [2007.80, -6.0], [2007.84, -2.0], [2007.88, -5.6], [2007.92, -9.0],
  [2007.97, -15.6], [2008.02, -21.0], [2008.07, -25.6], [2008.12, -22.0], [2008.17, -26.6], [2008.22, -19.4], [2008.27, -15.6],
  [2008.32, -13.5], [2008.38, -12.4], [2008.40, -12.9], [2009.44, -12.9], [2009.49, -10.6], [2009.54, -5.6], [2009.59, -0.6],
  [2009.63, -4.0], [2009.67, -1.0], [2009.71, -5.0], [2009.75, -2.0], [2009.80, -9.4], [2009.84, -3.0], [2009.88, -6.0],
  [2009.92, -1.0], [2009.96, -3.5], [2010.00, -1.1], [2010.04, -4.5], [2010.08, -0.5], [2010.12, -6.5], [2010.16, -2.0],
  [2010.20, -5.6], [2010.24, -2.5], [2010.28, -8.0], [2010.32, -3.0], [2010.36, -7.0], [2010.40, -10.6], [2010.45, -15.0],
  [2010.51, -22.9], [2010.56, -17.0], [2010.61, -15.6], [2010.66, -11.0], [2010.71, -8.1], [2010.76, -4.0], [2010.81, -5.6],
  [2010.86, -1.0], [2010.91, -1.9], [2010.95, -0.3], [2011.00, -3.0], [2011.04, -0.5], [2011.08, -4.0], [2011.12, -0.6],
  [2011.16, -3.5], [2011.20, -1.0], [2011.24, -5.0], [2011.28, -1.5], [2011.32, -4.0], [2011.36, -1.0], [2011.40, -6.0],
  [2011.44, -3.0], [2011.48, -9.0], [2011.52, -15.6], [2011.57, -20.0], [2011.62, -23.1], [2011.67, -19.0], [2011.74, -25.0],
  [2011.78, -20.0], [2011.82, -18.1], [2011.87, -21.0], [2011.93, -22.1], [2011.98, -16.0], [2012.03, -13.1], [2012.08, -11.5],
  [2012.13, -10.6], [2012.18, -12.5], [2012.23, -11.1], [2012.28, -14.0], [2012.33, -13.1], [2012.38, -11.0], [2012.43, -11.9],
  [2012.48, -13.5], [2012.53, -14.1], [2012.58, -11.5], [2012.64, -10.6], [2012.69, -9.5], [2012.74, -8.1], [2012.79, -9.0],
  [2012.84, -6.9], [2012.89, -7.5], [2012.94, -5.6], [2012.99, -3.0], [2013.04, -1.9], [2013.08, -4.5], [2013.12, -0.5],
  [2013.16, -5.0], [2013.20, -1.0], [2013.24, -3.5], [2013.28, -0.3], [2013.32, -5.5], [2013.36, -1.5], [2013.40, -7.0],
  [2013.44, -2.0], [2013.48, -5.0], [2013.52, -0.5], [2013.56, -6.5], [2013.60, -1.0], [2013.64, -4.0], [2013.68, -0.2],
  [2013.72, -3.0], [2013.76, -0.5], [2013.80, -5.0], [2013.84, -1.0], [2013.88, -3.5], [2013.92, -0.3], [2013.96, -4.0],
  [2014.00, -0.5], [2014.04, -3.0], [2014.08, -0.8], [2014.12, -5.5], [2014.16, -3.1], [2014.20, -8.0], [2014.25, -11.9],
  [2014.30, -9.5], [2014.35, -8.1], [2014.40, -5.0], [2014.46, -3.1], [2014.50, -0.5], [2014.54, -4.5], [2014.58, -1.0],
  [2014.62, -5.5], [2014.66, -2.0], [2014.70, -7.0], [2014.74, -1.5], [2014.78, -4.0], [2014.82, -0.3], [2014.86, -3.0],
  [2014.90, -0.6], [2014.94, -4.5], [2014.98, -1.0], [2015.02, -3.5], [2015.06, -0.5], [2015.10, -5.0], [2015.14, -1.0],
  [2015.18, -3.0], [2015.22, -0.2], [2015.26, -2.5], [2015.30, -0.3], [2015.34, -4.0], [2015.38, -0.6], [2015.42, -3.0],
  [2015.46, -1.0], [2015.50, -5.0], [2015.54, -2.5], [2015.58, -7.5], [2015.62, -5.0], [2015.67, -10.0], [2015.72, -7.0],
  [2015.77, -11.5], [2015.82, -8.0], [2015.88, -11.0], [2015.93, -8.5], [2015.98, -12.0], [2016.03, -10.0], [2016.08, -17.4],
  [2016.13, -12.0], [2016.18, -14.5], [2016.23, -11.5], [2016.28, -14.4], [2016.33, -12.0], [2016.38, -15.1], [2016.43, -12.5],
  [2016.48, -15.4], [2016.53, -11.0], [2016.59, -12.5], [2016.64, -9.5], [2016.69, -11.5], [2016.74, -13.1], [2016.79, -10.0],
  [2016.84, -12.0], [2016.89, -9.4], [2016.94, -11.1], [2016.99, -8.0], [2017.04, -10.5], [2017.09, -8.6], [2017.14, -11.9],
  [2017.19, -9.0], [2017.25, -13.0], [2017.30, -15.6], [2017.35, -10.0], [2017.40, -8.1], [2017.45, -5.0], [2017.50, -6.5],
  [2017.55, -3.5], [2017.60, -5.1], [2017.65, -2.5], [2017.70, -5.0], [2017.75, -2.0], [2017.80, -4.4], [2017.85, -1.5],
  [2017.90, -5.1], [2017.95, -2.0], [2018.00, -4.0], [2018.05, -1.0], [2018.11, -3.1], [2018.15, -0.5], [2018.20, -2.5],
  [2018.25, -0.3], [2018.31, -0.6], [2018.35, -3.0], [2018.40, -0.5], [2018.45, -2.5], [2018.51, -1.9], [2018.56, -4.0],
  [2018.61, -1.0], [2018.66, -3.5], [2018.72, -5.6], [2018.77, -2.0], [2018.82, -3.1], [2018.87, -6.0], [2018.92, -8.1],
  [2018.99, -23.1], [2019.03, -17.0], [2019.07, -13.1], [2019.12, -9.0], [2019.17, -10.5], [2019.22, -5.6], [2019.27, -7.0],
  [2019.32, -4.4], [2019.37, -2.0], [2019.42, -4.0], [2019.47, -1.0], [2019.53, -0.6], [2019.58, -3.5], [2019.63, -1.5],
  [2019.68, -5.5], [2019.73, -8.1], [2019.78, -4.0], [2019.83, -6.0], [2019.88, -2.0], [2019.93, -3.1], [2019.98, -1.0],
  [2020.03, -4.5], [2020.08, -7.0], [2020.14, -10.6], [2020.21, -25.25], [2020.27, -19.0], [2020.34, -15.6], [2020.39, -11.0],
  [2020.44, -8.1], [2020.49, -4.0], [2020.54, -1.9], [2020.59, -4.5], [2020.64, -5.6], [2020.69, -2.0], [2020.74, -0.6],
  [2020.79, -3.5], [2020.85, -4.4], [2020.90, -1.5], [2020.95, -0.6], [2021.00, -3.5], [2021.05, -3.1], [2021.10, -6.0],
  [2021.15, -5.6], [2021.20, -18.1], [2021.25, -13.1], [2021.30, -16.0], [2021.35, -19.4], [2021.40, -13.0], [2021.45, -10.6],
  [2021.50, -7.5], [2021.56, -5.6], [2021.61, -2.5], [2021.66, -3.1], [2021.71, -1.0], [2021.76, -0.6], [2021.81, -2.5],
  [2021.86, -0.1], [2021.91, -2.0], [2021.96, -3.1], [2022.01, -5.5], [2022.06, -8.1], [2022.11, -11.0], [2022.16, -13.1],
  [2022.21, -20.6], [2022.27, -17.0], [2022.32, -23.1], [2022.37, -21.0], [2022.42, -25.6], [2022.47, -25.5], [2023.10, -25.5],
  [2023.13, -26.4], [2023.18, -23.1], [2023.23, -20.6], [2023.28, -18.1], [2023.33, -16.0], [2023.38, -14.4], [2023.43, -13.0],
  [2023.48, -11.9], [2023.53, -12.5], [2023.58, -10.6], [2023.63, -12.0], [2023.69, -11.1], [2023.74, -9.5], [2023.79, -8.1],
  [2023.84, -7.0], [2023.89, -5.6], [2023.94, -3.5], [2023.99, -1.9], [2024.04, -4.0], [2024.09, -0.6], [2024.14, -4.5],
  [2024.19, -3.1], [2024.24, -0.5], [2024.29, -1.9], [2024.34, -5.0], [2024.40, -4.4], [2024.45, -1.0], [2024.50, -0.6],
  [2024.55, -6.0], [2024.60, -19.9], [2024.65, -9.0], [2024.70, -1.9], [2024.75, -5.5], [2024.80, -3.1], [2024.85, -0.5],
  [2024.90, -0.6], [2024.95, -4.0], [2025.00, -5.6], [2025.05, -2.5], [2025.11, -8.1], [2025.16, -25.1], [2025.21, -19.0],
  [2025.26, -15.6], [2025.31, -10.0], [2025.36, -8.1], [2025.41, -5.0], [2025.46, -4.4], [2025.51, -1.0], [2025.56, -1.9],
  [2025.61, -5.0], [2025.66, -5.6], [2025.71, -2.0], [2025.76, -4.4], [2025.81, -1.0], [2025.87, -1.9], [2025.92, -4.0],
  [2025.97, -0.6], [2026.02, -3.5], [2026.07, -3.1], [2026.12, -0.5], [2026.17, -0.6], [2026.22, -3.5], [2026.27, -4.4],
  [2026.32, -1.0], [2026.37, -0.6], [2026.42, -4.0], [2026.47, -8.1], [2026.54, -18.1]
];

const seriesNames = ['Baseline (trailing stop)', '5-Day Hold', '10-Day Hold', '21-Day Hold', '63-Day Hold', '126-Day Hold'];
const seriesData = [baseline, hold5, hold10, hold21, hold63, hold126];
const seriesColors = ['#0072B2', '#E69F00', '#009E73', '#D55E00', '#CC79A7', '#56B4E9'];

const xTicks = [1992, 1996, 2000, 2004, 2008, 2012, 2016, 2020, 2024];
const yTicks = [0, -5, -10, -15, -20, -25, -30, -35];

const FONT = "'DejaVu Sans', 'Noto Sans', sans-serif";
const GREY = '#6b7080';
const AXIS = '#7d8290';

// title, subtitle, footer and the in-plot legend
const textPlugin = {
    id: 'texts',
    afterDraw(chart) {
        const ctx = chart.ctx;
        ctx.save();
        ctx.textAlign = 'left';
        ctx.textBaseline = 'alphabetic';

        ctx.fillStyle = '#1a1a2e';
        ctx.font = 'bold 29.2px ' + FONT;
        ctx.fillText('Pullback Expectancy vs Holding Horizon \u2014 Drawdowns', 15, 37);

        ctx.fillStyle = GREY;
        ctx.font = '19.5px ' + FONT;
        ctx.fillText('Fixed N-day hold, no trailing stop \u00b7 underwater', 15, 64);

        ctx.font = '15.5px ' + FONT;
        ctx.fillText('Systematic Trading with TradeQuantiX', 15, 699);

        // legend, two columns of three
        ctx.font = '19.5px ' + FONT;
        ctx.textBaseline = 'middle';
        ctx.lineWidth = 2.5;
        chart.data.datasets.forEach(function (ds, i) {
            const col = Math.floor(i / 3);
            const row = i % 3;
            const x = 145 + col * 319;
            const y = 541 + row * 29;
            ctx.strokeStyle = ds.borderColor;
            ctx.beginPath();
            ctx.moveTo(x, y);
            ctx.lineTo(x + 42, y);
            ctx.stroke();
            ctx.fillStyle = '#111111';
            ctx.fillText(ds.label, x + 56, y + 1);
        });
        ctx.restore();
    }
};

const datasets = seriesData.map(function (pts, i) {
    return {
        label: seriesNames[i],
        data: pts.map(function (p) { return { x: p[0], y: p[1] }; }),
        borderColor: seriesColors[i],
        backgroundColor: seriesColors[i],
        borderWidth: 2.4,
        pointRadius: 0,
        tension: 0,
        fill: false,
        order: seriesData.length - 1 - i
    };
});

new Chart(document.getElementById('chart'), {
    type: 'line',
    data: { datasets: datasets },
    options: {
        responsive: false,
        animation: false,
        devicePixelRatio: 1,
        layout: { padding: { top: 88, right: 14, left: 0, bottom: 0 } },
        plugins: {
            legend: { display: false },
            title: { display: false },
            tooltip: { enabled: false }
        },
        scales: {
            x: {
                type: 'linear',
                min: 1989.63,
                max: 2026.95,
                afterBuildTicks: function (s) { s.ticks = xTicks.map(function (v) { return { value: v }; }); },
                afterFit: function (s) { s.height = 90; },
                ticks: {
                    color: GREY,
                    font: { family: FONT, size: 22 },
                    padding: 4,
                    maxRotation: 0,
                    autoSkip: false,
                    callback: function (v) { return String(v); }
                },
                grid: { color: '#e6e6ea', lineWidth: 1.3, tickColor: AXIS, tickLength: 7, tickWidth: 1.3 },
                border: { display: true, color: AXIS, width: 1.5 }
            },
            y: {
                min: -38.5,
                max: 1.85,
                afterBuildTicks: function (s) { s.ticks = yTicks.map(function (v) { return { value: v }; }); },
                afterFit: function (s) { s.width = 127; },
                ticks: {
                    color: GREY,
                    font: { family: FONT, size: 22 },
                    padding: 7,
                    autoSkip: false,
                    callback: function (v) { return v + '%'; }
                },
                grid: { color: '#e6e6ea', lineWidth: 1.3, tickColor: AXIS, tickLength: 7, tickWidth: 1.3 },
                border: { display: true, color: AXIS, width: 1.5 },
                title: {
                    display: true,
                    text: 'Drawdown',
                    color: '#1a1a2e',
                    font: { family: FONT, size: 22 },
                    padding: { top: 22, bottom: 0 }
                }
            }
        }
    },
    plugins: [textPlugin]
});
</script>
</body>
</html>
